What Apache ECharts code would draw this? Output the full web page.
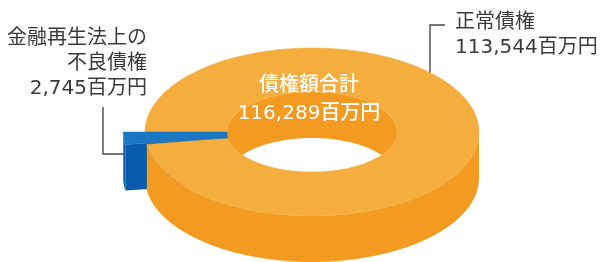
<!DOCTYPE html>
<html>
<head>
<meta charset="utf-8">
<script src="https://cdn.jsdelivr.net/npm/echarts@6/dist/echarts.min.js"></script>
<style>
html, body { margin: 0; padding: 0; background: #fff; }
#main { width: 604px; height: 262px; }
</style>
</head>
<body>
<div id="main"></div>
<script>
// データ
var categories = ['金融再生法上の不良債権', '正常債権'];
var values = [2745, 113544];
var unit = '百万円';
var totalTitle = '債権額合計';

var total = values.reduce(function (a, b) { return a + b; }, 0);
function fmt(v) { return v.toLocaleString('en-US') + unit; }

// 形状（3Dドーナツ）
var cx = 312, cy = 132, rx = 167, ry = 84, irx = 85, iry = 40, depth = 46;
var startAngle = 180;
var sliceStyle = [
    { top: '#1b76c4', side: '#075dab', outerX: 1.13 },
    { top: '#f5ad3e', side: '#f39a21', outerX: 1 }
];

function pt(a, rX, rY, z) {
    var r = a * Math.PI / 180;
    return [cx + rX * Math.cos(r), cy + rY * Math.sin(r) + z];
}
function arc(from, to, rX, rY, z) {
    var pts = [];
    var n = Math.max(2, Math.ceil(Math.abs(to - from)));
    for (var i = 0; i <= n; i++) {
        pts.push(pt(from + (to - from) * i / n, rX, rY, z));
    }
    return pts;
}
// 見える範囲との共通部分
function clip(lo, hi, base) {
    var out = [];
    for (var k = -2; k <= 2; k++) {
        var s = Math.max(lo, base + k * 360), e = Math.min(hi, base + k * 360 + 180);
        if (e > s) out.push([s, e]);
    }
    return out;
}
function wall(s, e, rX, rY) {
    var top = arc(s, e, rX, rY, 0);
    var bot = arc(e, s, rX, rY, depth);
    return top.concat(bot);
}

function renderItem(params, api) {
    var i = params.dataIndex;
    var before = 0;
    for (var j = 0; j < i; j++) before += values[j];
    var hi = startAngle - before / total * 360;
    var lo = hi - api.value(0) / total * 360;
    var st = sliceStyle[i];
    var orx = rx * st.outerX;
    var kids = [];

    // 内側の壁（奥）
    clip(lo, hi, 180).forEach(function (r) {
        kids.push({ type: 'polygon', z2: 1, shape: { points: wall(r[0], r[1], irx, iry) },
            style: { fill: st.side } });
    });
    // 切断面
    [[lo, Math.cos(lo * Math.PI / 180) < 0], [hi, Math.cos(hi * Math.PI / 180) > 0]].forEach(function (c) {
        if (!c[1]) return;
        var a = c[0];
        var p1 = pt(a, orx, ry, 0), p2 = pt(a, irx, iry, 0), p3 = pt(a, irx, iry, depth), p4 = pt(a, orx, ry, depth);
        kids.push({ type: 'polygon', z2: 2 + Math.sin(a * Math.PI / 180), shape: { points: [p1, p2, p3, p4] },
            style: { fill: st.side } });
    });
    // 外側の壁（手前）
    clip(lo, hi, 0).forEach(function (r) {
        kids.push({ type: 'polygon', z2: 4, shape: { points: wall(r[0], r[1], orx, ry) },
            style: { fill: st.side } });
    });
    // 上面
    var topPts = arc(lo, hi, orx, ry, 0).concat(arc(hi, lo, irx, iry, 0));
    kids.push({ type: 'polygon', z2: st.outerX > 1 ? 7 : 6, shape: { points: topPts },
        style: { fill: st.top, stroke: st.top, lineWidth: 0.5 } });

    return { type: 'group', children: kids };
}

var txt = '#3a3a3a';
var font = '20px "DejaVu Sans", "Noto Sans CJK JP"';
var fontC = '500 20px "DejaVu Sans", "Noto Sans CJK JP"';

var chart = echarts.init(document.getElementById('main'));
var option = {
    animation: false,
    graphic: [
        { type: 'polyline', shape: { points: [[103, 107], [103, 154], [125, 154]] },
            style: { stroke: '#4a4a4a', lineWidth: 1.4, fill: null } },
        { type: 'polyline', shape: { points: [[445, 25], [430, 25], [430, 82]] },
            style: { stroke: '#4a4a4a', lineWidth: 1.4, fill: null } },
        { type: 'text', x: 147, y: 39, style: { text: '金融再生法上の', fill: txt, font: font, textAlign: 'right', textVerticalAlign: 'middle' } },
        { type: 'text', x: 147, y: 64, style: { text: '不良債権', fill: txt, font: font, textAlign: 'right', textVerticalAlign: 'middle' } },
        { type: 'text', x: 147, y: 89, style: { text: fmt(values[0]), fill: txt, font: font, textAlign: 'right', textVerticalAlign: 'middle' } },
        { type: 'text', x: 455, y: 23, style: { text: categories[1], fill: txt, font: font, textAlign: 'left', textVerticalAlign: 'middle' } },
        { type: 'text', x: 455, y: 48, style: { text: fmt(values[1]), fill: txt, font: font, textAlign: 'left', textVerticalAlign: 'middle' } },
        { type: 'text', x: 309, y: 86, z: 10, style: { text: totalTitle, fill: '#fff', font: fontC, textAlign: 'center', textVerticalAlign: 'middle' } },
        { type: 'text', x: 309, y: 114, z: 10, style: { text: fmt(total), fill: '#fff', font: fontC, textAlign: 'center', textVerticalAlign: 'middle' } }
    ],
    series: [{
        type: 'custom',
        coordinateSystem: 'none',
        silent: true,
        renderItem: renderItem,
        data: values.map(function (v, i) { return { name: categories[i], value: [v] }; })
    }]
};
chart.setOption(option);
</script>
</body>
</html>
